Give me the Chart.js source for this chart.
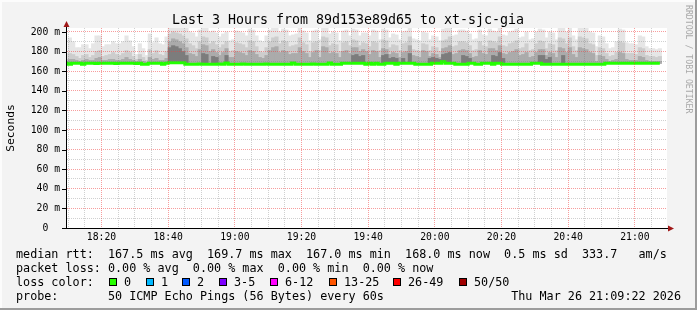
<!DOCTYPE html>
<html>
<head>
<meta charset="utf-8">
<script src="https://cdn.jsdelivr.net/npm/chart.js@4.4.1/dist/chart.umd.min.js"></script>
<style>
  html, body { margin: 0; padding: 0; background: #f3f3f3; }
  #wrap { width: 697px; height: 310px; }
</style>
</head>
<body>
<div id="wrap"><canvas id="chart" width="697" height="310"></canvas></div>
<script>
// one step per minute, first step ends 18:10, last one 21:08
const firstStepEnd = 18 * 60 + 10;
const graphEnd = 21 * 60 + 9 + 39 / 60;
const graphStart = graphEnd - 180;

const firstLabelMinute = 18 * 60 + 20;
const xTickLabels = ['18:20', '18:40', '19:00', '19:20', '19:40', '20:00', '20:20', '20:40', '21:00'];
const yTickLabels = ['0', '20 m', '40 m', '60 m', '80 m', '100 m', '120 m', '140 m', '160 m', '180 m', '200 m'];

// median rtt in ms
const median = [
  168.0, 167.0, 168.0, 168.0, 168.0, 167.0, 168.0, 168.1, 168.0, 167.9,
  168.0, 168.0, 168.1, 168.0, 168.0, 167.9, 168.0, 168.1, 168.0, 168.0,
  168.0, 167.9, 168.0, 167.0, 167.0, 168.0, 168.1, 168.0, 168.0, 167.0,
  168.0, 168.6, 168.7, 168.6, 168.6, 168.5, 167.2, 167.1, 167.2, 167.2,
  167.3, 167.2, 167.1, 167.2, 167.2, 167.2, 167.3, 167.2, 168.3, 167.2,
  167.2, 167.1, 167.2, 167.3, 167.2, 167.2, 167.1, 167.2, 167.2, 167.2,
  167.3, 167.2, 167.2, 167.1, 167.2, 167.2, 167.2, 167.2, 168.3, 167.2,
  167.2, 167.1, 167.2, 167.2, 167.3, 167.2, 167.2, 167.1, 167.2, 168.3,
  167.0, 167.0, 167.0, 168.1, 168.0, 168.1, 168.1, 168.2, 168.1, 168.0,
  167.2, 168.1, 167.2, 168.1, 167.2, 167.2, 168.1, 168.0, 168.1, 167.2,
  168.1, 168.1, 168.0, 168.1, 168.1, 167.2, 167.2, 167.1, 167.2, 167.2,
  168.1, 168.0, 168.1, 169.7, 168.1, 168.1, 168.0, 167.2, 167.2, 167.1,
  167.2, 168.1, 168.1, 167.2, 167.2, 168.1, 168.0, 168.1, 167.2, 168.1,
  168.1, 167.2, 167.2, 167.2, 167.1, 167.2, 167.2, 167.2, 167.1, 167.2,
  168.1, 168.1, 168.0, 167.2, 167.2, 167.2, 167.1, 167.1, 167.2, 167.1,
  167.1, 167.1, 167.2, 167.1, 167.1, 167.1, 167.2, 167.1, 167.1, 167.1,
  167.1, 167.2, 168.0, 168.0, 168.0, 168.0, 168.0, 168.0, 168.0, 168.0,
  168.0, 168.0, 168.0, 168.0, 168.0, 168.0, 168.0, 168.0, 168.0
];

// smoke: highest pings (light), upper band, lower band, dense core (dark)
const smokeMax = [
  178, 194, 190, 184, 184, 187, 187, 183, 188, 196, 196, 185, 187, 187, 190, 188, 188, 190, 196, 191,
  185, 177, 188, 183, 176, 198, 189, 194, 188, 187, 195, 210, 210, 210, 210, 210, 208, 200, 199, 195,
  202, 207, 206, 200, 201, 199, 195, 198, 200, 191, 192, 201, 200, 199, 196, 203, 202, 196, 191, 190,
  196, 202, 206, 208, 200, 203, 202, 196, 197, 198, 207, 201, 199, 191, 201, 202, 192, 208, 206, 198,
  200, 199, 191, 201, 202, 196, 203, 202, 196, 199, 199, 196, 202, 201, 192, 203, 202, 194, 198, 197,
  192, 200, 201, 208, 193, 192, 191, 200, 199, 192, 196, 195, 191, 203, 204, 208, 196, 197, 202, 202,
  201, 198, 192, 193, 202, 197, 196, 203, 201, 200, 208, 197, 196, 200, 201, 203, 194, 195, 200, 192,
  193, 200, 203, 202, 194, 200, 199, 192, 207, 206, 200, 207, 196, 192, 208, 207, 206, 200, 199, 185,
  196, 195, 188, 183, 184, 190, 203, 202, 189, 188, 188, 187, 196, 195, 185, 183, 183, 182, 183
];
const smokeMid = [
  172, 178, 177, 175, 173, 176, 177, 174, 176, 180, 181, 175, 176, 177, 179, 177, 176, 178, 181, 179,
  175, 172, 177, 174, 171, 182, 178, 181, 177, 176, 180, 198, 200, 199, 198, 196, 193, 188, 186, 183,
  190, 195, 194, 188, 190, 187, 184, 187, 190, 180, 181, 189, 188, 187, 184, 191, 190, 185, 180, 179,
  184, 190, 194, 195, 188, 191, 190, 185, 186, 187, 194, 189, 187, 180, 189, 190, 181, 195, 194, 186,
  188, 187, 180, 189, 190, 186, 192, 191, 186, 189, 188, 185, 190, 189, 181, 192, 191, 184, 187, 186,
  181, 188, 189, 195, 182, 181, 180, 188, 187, 181, 185, 184, 180, 191, 192, 195, 185, 186, 190, 190,
  189, 186, 181, 182, 190, 186, 185, 191, 190, 189, 195, 186, 185, 188, 189, 191, 183, 184, 188, 181,
  182, 188, 191, 190, 183, 188, 187, 181, 194, 193, 188, 194, 185, 181, 195, 194, 193, 188, 187, 176,
  184, 183, 178, 175, 176, 179, 190, 189, 178, 178, 178, 177, 184, 183, 176, 175, 175, 174, 175
];
const smokeLow = [
  170, 172, 172, 171, 170, 171, 172, 171, 171, 173, 174, 171, 171, 172, 172, 171, 171, 172, 174, 172,
  171, 170, 172, 170, 169, 174, 172, 173, 171, 171, 173, 190, 193, 192, 190, 188, 184, 178, 177, 175,
  182, 187, 186, 180, 182, 179, 176, 179, 183, 174, 174, 180, 179, 178, 176, 181, 180, 177, 174, 173,
  176, 181, 184, 185, 179, 181, 180, 177, 178, 178, 184, 180, 178, 174, 179, 181, 174, 185, 184, 178,
  179, 178, 174, 180, 181, 178, 184, 184, 180, 182, 180, 177, 181, 180, 174, 183, 182, 177, 179, 178,
  174, 179, 180, 186, 176, 175, 174, 181, 180, 175, 178, 177, 174, 183, 184, 186, 177, 178, 181, 182,
  181, 178, 174, 175, 181, 178, 177, 183, 183, 181, 186, 178, 177, 179, 180, 182, 176, 177, 179, 174,
  175, 179, 182, 182, 176, 179, 178, 174, 184, 183, 179, 184, 177, 174, 184, 183, 182, 179, 178, 170,
  176, 175, 172, 170, 171, 172, 179, 178, 172, 171, 171, 171, 175, 174, 171, 170, 170, 170, 170
];
const smokeCore = [
  null, null, null, null, null, null, null, null, null, null, null, null, null, null, null, null,
  null, null, null, null, null, null, null, null, null, null, null, null, null, null, null,
  184, 186, 185, 183, 180, 176, null, null, null, null, 178, 177, null, 175, 174, null, null, 176,
  null, null, null, null, null, null, null, null, null, null, null, null, null, null, null, null,
  null, null, null, null, null, null, null, null, null, null, null, null, null, null, null, null,
  null, null, null, null, null,
  176, 177, 175, 176, null, null, null, null, null, 176, 177, 173, 174, 173, null, 173, null, 178,
  null, null, null, null, null, 173, 174, 173, 172, 177, 178, 179, null, null, null, 176, 175, 173,
  null, null, null, null, null, null, 176, 175, 179, 173,
  null, null, null, null, null, null, null, null, null, null, 176, 176, 172, 174, null, null, null, 176,
  null, null, null, null, null, null, null, null, null, null, null, null, null, null, null, null,
  null, null, null, null, null, null, null, null, null, null, null, null, null
];

const lossColors = ['#26ff00', '#00b8ff', '#0059ff', '#7e00ff', '#ff00ff', '#ff5500', '#ff0000', '#a00000'];
const lossLabels = ['0', '1', '2', '3-5', '6-12', '13-25', '26-49', '50/50'];

const mono = '"DejaVu Sans Mono", monospace';
const stepX = k => firstStepEnd + k - 0.5;

function smoke(values, color) {
  return {
    type: 'bar',
    data: values.map((v, k) => ({ x: stepX(k), y: v === null ? null : [median[k], v] })),
    backgroundColor: color,
    borderWidth: 0,
    barPercentage: 1,
    categoryPercentage: 1,
    grouped: false,
    inflateAmount: 0.4,
    clip: 0
  };
}

const rrdFrame = {
  id: 'rrdFrame',
  beforeDraw(chart) {
    const { ctx, chartArea: a, width, height } = chart;
    ctx.save();
    ctx.fillStyle = '#f3f3f3';
    ctx.fillRect(0, 0, width, height);
    ctx.fillStyle = '#ffffff';
    ctx.fillRect(a.left, a.top, a.right - a.left, a.bottom - a.top);
    ctx.restore();
  },
  afterDraw(chart) {
    const { ctx, chartArea: a, width, height } = chart;
    const ys = chart.scales.y;
    ctx.save();

    // border of the image
    ctx.fillStyle = '#fcfcfc';
    ctx.fillRect(0, 0, width, 2);
    ctx.fillRect(0, 0, 2, height);
    ctx.fillStyle = '#9c9c9c';
    ctx.fillRect(width - 2, 0, 2, height);
    ctx.fillRect(0, height - 2, width, 2);

    // axes
    ctx.fillStyle = '#000';
    ctx.fillRect(a.left - 5, a.bottom, a.right - a.left + 6, 1);
    ctx.fillRect(a.left - 1, a.top - 2, 1, a.bottom - a.top + 3);
    for (let v = 0; v <= 200; v += 20) {
      const y = Math.round(ys.getPixelForValue(v));
      ctx.fillRect(a.left - 5, y, 4, 1);
    }
    ctx.fillStyle = '#a01818';
    ctx.beginPath();
    ctx.moveTo(a.left - 0.5, a.top - 7);
    ctx.lineTo(a.left - 3.5, a.top - 1);
    ctx.lineTo(a.left + 2.5, a.top - 1);
    ctx.closePath();
    ctx.fill();
    ctx.beginPath();
    ctx.moveTo(a.right + 7, a.bottom + 0.5);
    ctx.lineTo(a.right + 1, a.bottom - 2.5);
    ctx.lineTo(a.right + 1, a.bottom + 3.5);
    ctx.closePath();
    ctx.fill();

    // title
    ctx.fillStyle = '#000';
    ctx.font = '13.3px ' + mono;
    ctx.textAlign = 'center';
    ctx.textBaseline = 'alphabetic';
    ctx.fillText('Last 3 Hours from 89d153e89d65 to xt-sjc-gia', 348, 24);

    // vertical labels
    ctx.save();
    ctx.translate(11, (a.top + a.bottom) / 2);
    ctx.rotate(-Math.PI / 2);
    ctx.font = '11.3px ' + mono;
    ctx.textBaseline = 'middle';
    ctx.fillText('Seconds', 0, 0);
    ctx.restore();

    ctx.save();
    ctx.translate(688, 5);
    ctx.rotate(Math.PI / 2);
    ctx.font = '8.2px ' + mono;
    ctx.fillStyle = '#a8a8a8';
    ctx.textAlign = 'left';
    ctx.textBaseline = 'middle';
    ctx.fillText('RRDTOOL / TOBI OETIKER', 0, 0);
    ctx.restore();

    // legend
    ctx.font = '11.75px ' + mono;
    ctx.textAlign = 'left';
    ctx.fillStyle = '#000';
    ctx.fillText('median rtt:  167.5 ms avg  169.7 ms max  167.0 ms min  168.0 ms now  0.5 ms sd  333.7   am/s', 16, 258);
    ctx.fillText('packet loss: 0.00 % avg  0.00 % max  0.00 % min  0.00 % now', 16, 272);
    ctx.fillText('loss color:', 16, 286);
    const boxX = [109, 146, 182, 219, 270, 329, 393, 459];
    lossColors.forEach((c, i) => {
      ctx.fillStyle = c;
      ctx.fillRect(boxX[i], 278, 8, 8);
      ctx.strokeStyle = '#000';
      ctx.lineWidth = 1;
      ctx.strokeRect(boxX[i] + 0.5, 278.5, 7, 7);
      ctx.fillStyle = '#000';
      ctx.fillText(lossLabels[i], boxX[i] + 15, 286);
    });
    ctx.fillText('probe:       50 ICMP Echo Pings (56 Bytes) every 60s', 16, 300);
    ctx.textAlign = 'right';
    ctx.fillText('Thu Mar 26 21:09:22 2026', 681, 300);
    ctx.restore();
  }
};

const majorGrid = 'rgba(240, 60, 60, 0.5)';
const minorGrid = 'rgba(120, 120, 120, 0.35)';

new Chart(document.getElementById('chart'), {
  type: 'bar',
  data: {
    datasets: [
      {
        type: 'line',
        data: median.map((v, k) => ({ x: stepX(k), y: v })),
        borderColor: '#22ff00',
        borderWidth: 3,
        pointRadius: 0,
        stepped: 'middle',
        fill: false
      },
      smoke(smokeCore, '#7c7c7c'),
      smoke(smokeLow, '#ababab'),
      smoke(smokeMid, '#cdcdcd'),
      smoke(smokeMax, '#e6e6e6')
    ]
  },
  options: {
    responsive: false,
    animation: false,
    events: [],
    layout: { padding: { left: 0, right: 30, top: 28, bottom: 0 } },
    plugins: { legend: { display: false }, tooltip: { enabled: false } },
    scales: {
      x: {
        type: 'linear',
        min: graphStart,
        max: graphEnd,
        offset: false,
        afterBuildTicks(scale) {
          const ticks = [];
          for (let m = Math.ceil(graphStart / 5) * 5; m <= graphEnd; m += 5) ticks.push({ value: m });
          scale.ticks = ticks;
        },
        afterFit(scale) { scale.height = 82; },
        ticks: {
          autoSkip: false,
          maxRotation: 0,
          minRotation: 0,
          padding: 4,
          color: '#000',
          font: { family: mono, size: 9.75 },
          callback(value) {
            const idx = (value - firstLabelMinute) / 20;
            return Number.isInteger(idx) && xTickLabels[idx] ? xTickLabels[idx] : '';
          }
        },
        grid: {
          offset: false,
          drawTicks: false,
          z: 1,
          color: c => (c.tick && c.tick.value % 20 === 0 ? majorGrid : minorGrid)
        },
        border: { display: false, dash: [1, 1] }
      },
      y: {
        type: 'linear',
        min: 0,
        max: 204.08,
        afterBuildTicks(scale) {
          const ticks = [];
          for (let v = 0; v <= 200; v += 10) ticks.push({ value: v });
          scale.ticks = ticks;
        },
        afterFit(scale) { scale.width = 67; },
        ticks: {
          autoSkip: false,
          padding: 7,
          color: '#000',
          font: { family: mono, size: 9.75 },
          callback(value) {
            if (value % 20 !== 0) return '';
            const label = yTickLabels[value / 20];
            return label.includes('m') ? label : label + '  ';
          }
        },
        grid: {
          drawTicks: false,
          z: 1,
          color: c => (c.tick && c.tick.value % 20 === 0 ? majorGrid : minorGrid)
        },
        border: { display: false, dash: [1, 1] }
      }
    }
  },
  plugins: [rrdFrame]
});
</script>
</body>
</html>
